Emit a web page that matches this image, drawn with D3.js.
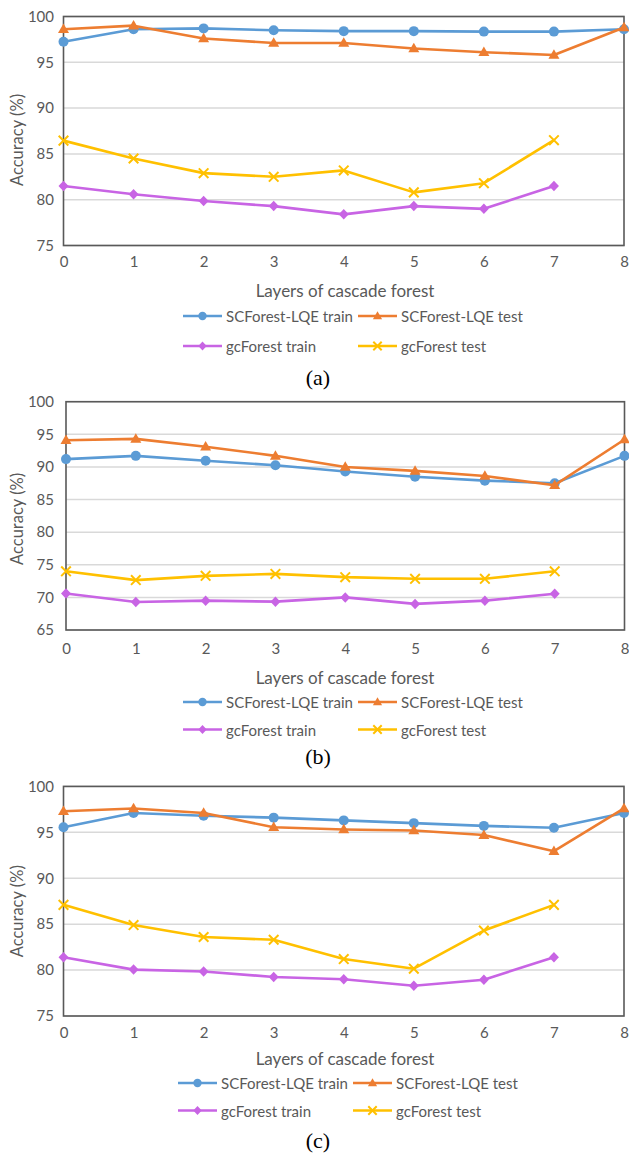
<!DOCTYPE html>
<html>
<head>
<meta charset="utf-8">
<script src="https://cdn.jsdelivr.net/npm/d3@7"></script>
<style>
  html, body { margin: 0; padding: 0; background: #fff; }
  svg { display: block; }
</style>
</head>
<body>
<svg id="fig" width="629" height="1153"></svg>
<script>
// Layers of the cascade forest (x axis)
const layers = [0, 1, 2, 3, 4, 5, 6, 7, 8];

// Series names in legend order
const seriesNames = ["SCForest-LQE train", "SCForest-LQE test", "gcForest train", "gcForest test"];

// (a)
const aScTrain = [97.25, 98.6, 98.7, 98.5, 98.4, 98.4, 98.35, 98.35, 98.6];
const aScTest  = [98.6, 99.0, 97.6, 97.1, 97.1, 96.5, 96.1, 95.8, 98.8];
const aGcTrain = [81.5, 80.6, 79.85, 79.3, 78.4, 79.3, 79.0, 81.5];
const aGcTest  = [86.45, 84.5, 82.9, 82.5, 83.2, 80.8, 81.8, 86.5];
const aTicks = [75, 80, 85, 90, 95, 100];

// (b)
const bScTrain = [91.2, 91.7, 90.95, 90.25, 89.3, 88.5, 87.9, 87.5, 91.7];
const bScTest  = [94.1, 94.3, 93.1, 91.7, 90.0, 89.4, 88.6, 87.2, 94.2];
const bGcTrain = [70.6, 69.3, 69.5, 69.35, 70.0, 69.0, 69.5, 70.55];
const bGcTest  = [74.0, 72.65, 73.3, 73.6, 73.1, 72.85, 72.85, 74.0];
const bTicks = [65, 70, 75, 80, 85, 90, 95, 100];

// (c)
const cScTrain = [95.55, 97.1, 96.8, 96.6, 96.3, 96.0, 95.7, 95.5, 97.1];
const cScTest  = [97.3, 97.6, 97.1, 95.55, 95.3, 95.2, 94.7, 92.95, 97.6];
const cGcTrain = [81.4, 80.05, 79.85, 79.25, 79.0, 78.3, 78.95, 81.4];
const cGcTest  = [87.1, 84.9, 83.6, 83.3, 81.2, 80.15, 84.3, 87.1];
const cTicks = [75, 80, 85, 90, 95, 100];

const colors = ["#5b9bd5", "#ed7d31", "#c864e4", "#ffc000"];
const markers = ["circle", "triangle", "diamond", "x"];
const textColor = "#595959";
const uiFont = "Lato, 'Open Sans', sans-serif";

const panels = [
  { label: "(a)", series: [aScTrain, aScTest, aGcTrain, aGcTest], ticks: aTicks,
    left: 63.5, right: 624, top: 16.5, bottom: 245.5, yTitleShift: 9,
    tickY: 21, xTitleY: 290, legendX: 183, legendY1: 316, legendY2: 346, capY: 377 },
  { label: "(b)", series: [bScTrain, bScTest, bGcTrain, bGcTest], ticks: bTicks,
    left: 66, right: 624.5, top: 401.7, bottom: 630, yTitleShift: 3,
    tickY: 23, xTitleY: 677, legendX: 183, legendY1: 702, legendY2: 729.5, capY: 756 },
  { label: "(c)", series: [cScTrain, cScTest, cGcTrain, cGcTest], ticks: cTicks,
    left: 63.5, right: 624, top: 786.4, bottom: 1016, yTitleShift: 10,
    tickY: 21, xTitleY: 1058, legendX: 178, legendY1: 1083, legendY2: 1110.5, capY: 1140 }
];

const svg = d3.select("#fig");

function drawMarker(g, kind, color, s) {
  // s = nominal half-width of the marker
  if (kind === "circle") {
    g.append("circle").attr("r", s).attr("fill", color);
  } else if (kind === "triangle") {
    const h = s * 1.9;
    g.append("path")
      .attr("d", `M0,${-h * 0.6}L${s * 1.1},${h * 0.4}L${-s * 1.1},${h * 0.4}Z`)
      .attr("fill", color);
  } else if (kind === "diamond") {
    g.append("path")
      .attr("d", `M0,${-s * 1.05}L${s},0L0,${s * 1.05}L${-s},0Z`)
      .attr("fill", color);
  } else {
    g.append("path")
      .attr("d", `M${-s},${-s}L${s},${s}M${-s},${s}L${s},${-s}`)
      .attr("stroke", color).attr("stroke-width", 2).attr("fill", "none");
  }
}

panels.forEach(p => {
  const g = svg.append("g");
  const yDomain = [d3.min(p.ticks), d3.max(p.ticks)];
  const x = d3.scaleLinear().domain([0, 8]).range([p.left, p.right]);
  const y = d3.scaleLinear().domain(yDomain).range([p.bottom, p.top]);

  // horizontal gridlines
  g.append("g").selectAll("line").data(p.ticks).join("line")
    .attr("x1", p.left).attr("x2", p.right)
    .attr("y1", d => y(d)).attr("y2", d => y(d))
    .attr("stroke", "#d9d9d9").attr("stroke-width", 1.5);

  // y axis labels
  const yAxis = d3.axisLeft(y).tickValues(p.ticks).tickSize(0).tickPadding(p.left - 54);
  const ya = g.append("g").attr("transform", `translate(${p.left},0)`).call(yAxis);
  ya.select(".domain").remove();
  ya.selectAll("text").attr("fill", textColor).attr("font-family", uiFont).attr("font-size", 15);

  // x axis labels
  const xAxis = d3.axisBottom(x).tickValues(layers).tickFormat(d3.format("d")).tickSize(0).tickPadding(p.tickY - 10);
  const xa = g.append("g").attr("transform", `translate(0,${p.bottom})`).call(xAxis);
  xa.select(".domain").remove();
  xa.selectAll("text").attr("fill", textColor).attr("font-family", uiFont).attr("font-size", 15);

  // plot frame
  g.append("rect")
    .attr("x", p.left).attr("y", p.top)
    .attr("width", p.right - p.left).attr("height", p.bottom - p.top)
    .attr("fill", "none").attr("stroke", "#595959").attr("stroke-width", 1.6);

  // series lines and markers
  const line = d3.line().x((d, i) => x(i)).y(d => y(d));
  p.series.forEach((vals, si) => {
    g.append("path").datum(vals)
      .attr("d", line)
      .attr("fill", "none").attr("stroke", colors[si])
      .attr("stroke-width", 2.6).attr("stroke-linejoin", "round");
    vals.forEach((v, i) => {
      const mg = g.append("g").attr("transform", `translate(${x(i)},${y(v)})`);
      drawMarker(mg, markers[si], colors[si], si === 3 ? 4.8 : 5);
    });
  });

  // axis titles
  g.append("text")
    .attr("transform", `translate(17,${(p.top + p.bottom) / 2 + p.yTitleShift}) rotate(-90)`)
    .attr("text-anchor", "middle").attr("dominant-baseline", "central")
    .attr("fill", textColor).attr("font-family", uiFont).attr("font-size", 16.5)
    .text("Accuracy (%)");
  g.append("text")
    .attr("x", 345).attr("y", p.xTitleY)
    .attr("text-anchor", "middle").attr("dominant-baseline", "central")
    .attr("fill", textColor).attr("font-family", uiFont).attr("font-size", 17)
    .text("Layers of cascade forest");

  // legend: two rows of two entries
  const colX = [p.legendX, p.legendX + 175];
  seriesNames.forEach((name, si) => {
    const lx = colX[si % 2];
    const ly = si < 2 ? p.legendY1 : p.legendY2;
    const lg = g.append("g").attr("transform", `translate(${lx},${ly})`);
    lg.append("line").attr("x1", 0).attr("x2", 39).attr("y1", 0).attr("y2", 0)
      .attr("stroke", colors[si]).attr("stroke-width", 2.6);
    const mg = lg.append("g").attr("transform", "translate(19.5,0)");
    drawMarker(mg, markers[si], colors[si], 4.2);
    lg.append("text").attr("x", 43).attr("y", 0)
      .attr("dominant-baseline", "central")
      .attr("fill", textColor).attr("font-family", uiFont).attr("font-size", 15)
      .text(name);
  });

  // panel caption
  g.append("text")
    .attr("x", 318).attr("y", p.capY)
    .attr("text-anchor", "middle").attr("dominant-baseline", "central")
    .attr("fill", "#000").attr("font-family", "'Liberation Serif', 'Times New Roman', serif")
    .attr("font-size", 22)
    .text(p.label);
});
</script>
</body>
</html>
